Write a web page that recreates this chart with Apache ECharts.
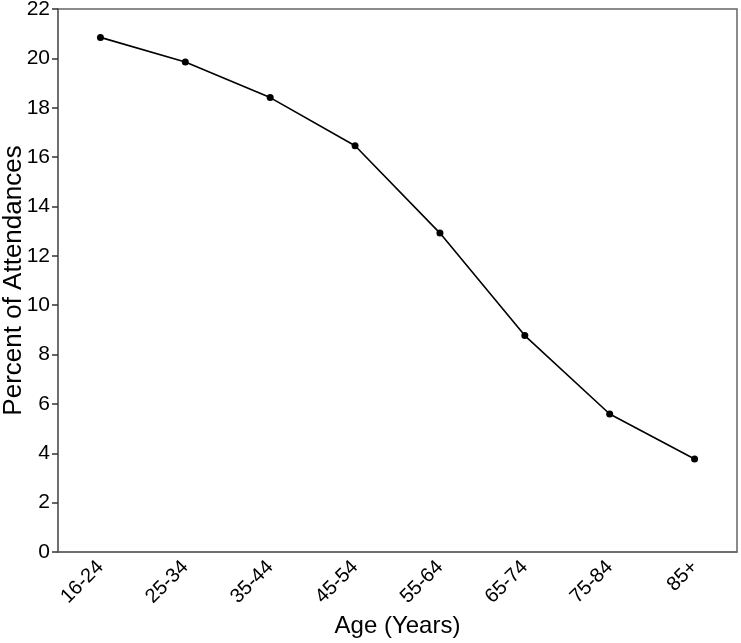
<!DOCTYPE html>
<html lang="en">
<head>
    <meta charset="utf-8">
    <title>Percent of Attendances by Age</title>
    <style>
        html, body { margin: 0; padding: 0; background: #fff; }
        #age-chart { width: 741px; height: 643px; }
    </style>
</head>
<body>
<div id="age-chart"></div>
<script src="https://cdn.jsdelivr.net/npm/echarts@6/dist/echarts.min.js"></script>
<script type="text/javascript">

// 年龄组
var ageGroups = ['16-24', '25-34', '35-44', '45-54', '55-64', '65-74', '75-84', '85+'];
// 就诊百分比
var attendPct = [20.85, 19.85, 18.41, 16.46, 12.92, 8.77, 5.59, 3.77];
// y 轴刻度
var yTicks = [0, 2, 4, 6, 8, 10, 12, 14, 16, 18, 20, 22];

var fontFamily = '"Liberation Sans", Arial, sans-serif';
var axisGray = '#666';

var ageChart = echarts.init(document.getElementById('age-chart'));
var ageChartOption = {
    animation: false,
    grid: {
        left: 58,
        top: 9,
        right: 4,
        bottom: 91,
        outerBoundsMode: 'none',
        containLabel: false,
        show: true,
        borderColor: axisGray,
        borderWidth: 1.5,
        backgroundColor: '#fff'
    },
    xAxis: {
        type: 'category',
        data: ageGroups,
        boundaryGap: true,
        name: 'Age (Years)',
        nameLocation: 'middle',
        nameGap: 62,
        nameMoveOverlap: false,
        nameTextStyle: { fontFamily: fontFamily, fontSize: 24, color: '#000' },
        axisLine: { lineStyle: { color: axisGray, width: 1.5 } },
        axisTick: { alignWithLabel: true, length: 6, lineStyle: { color: '#333', width: 1.5 } },
        axisLabel: {
            rotate: 45,
            margin: 12,
            fontFamily: fontFamily,
            fontSize: 20,
            color: '#000'
        }
    },
    yAxis: {
        type: 'value',
        min: yTicks[0],
        max: yTicks[yTicks.length - 1],
        interval: 2,
        name: 'Percent of Attendances',
        nameLocation: 'middle',
        nameGap: 31,
        nameMoveOverlap: false,
        nameTextStyle: { fontFamily: fontFamily, fontSize: 26, color: '#000' },
        splitLine: { show: false },
        axisLine: { show: true, lineStyle: { color: axisGray, width: 1.5 } },
        axisTick: { show: true, length: 6, lineStyle: { color: '#333', width: 1.5 } },
        axisLabel: {
            margin: 8,
            fontFamily: fontFamily,
            fontSize: 21,
            color: '#000'
        }
    },
    series: [{
        type: 'line',
        data: attendPct,
        symbol: 'circle',
        symbolSize: 7,
        lineStyle: { color: '#000', width: 1.6 },
        itemStyle: { color: '#000' }
    }]
};
ageChart.setOption(ageChartOption);

</script>
</body>
</html>
